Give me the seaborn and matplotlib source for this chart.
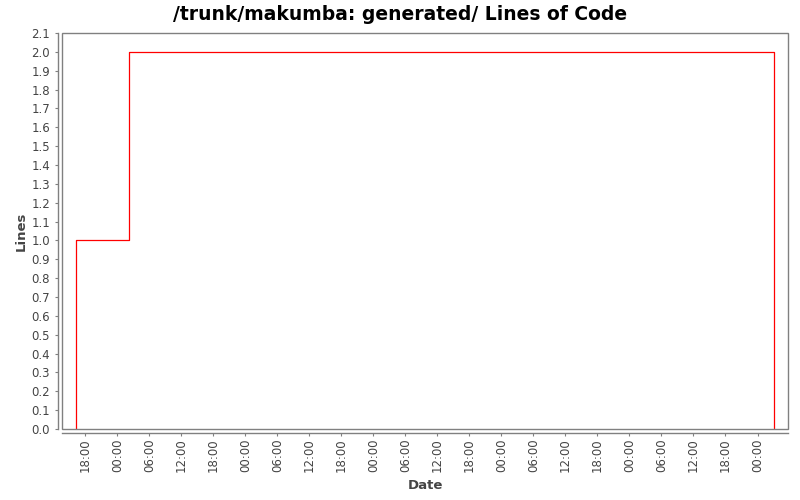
import matplotlib
matplotlib.use("Agg")
import matplotlib.pyplot as plt
import matplotlib.dates as mdates
from matplotlib.ticker import MultipleLocator, FormatStrFormatter
from matplotlib.patches import Rectangle
import seaborn as sns
import pandas as pd

# Data
dates = ["2003-03-10 16:15", "2003-03-10 16:15", "2003-03-11 02:15",
         "2003-03-16 03:06", "2003-03-16 03:06"]
lines_of_code = [0, 1, 2, 2, 0]
title = "/trunk/makumba: generated/ Lines of Code"
x_label = "Date"
y_label = "Lines"

df = pd.DataFrame({"Date": pd.to_datetime(dates), "Lines": lines_of_code})

sns.set_style("white")
plt.rcParams["font.family"] = ["DejaVu Sans"]

fig = plt.figure(figsize=(8, 5), dpi=100)
ax = fig.add_axes([62 / 800, (500 - 429) / 500, (788 - 62) / 800, (429 - 33) / 500])

sns.lineplot(data=df, x="Date", y="Lines", ax=ax, sort=False, estimator=None,
             drawstyle="steps-post", color="#ff0000", linewidth=0.9)

ax.set_ylim(0, 2.1)
ax.margins(x=0.02)
ax.yaxis.set_major_locator(MultipleLocator(0.1))
ax.yaxis.set_major_formatter(FormatStrFormatter("%.1f"))
ax.xaxis.set_major_locator(mdates.HourLocator(byhour=[0, 6, 12, 18]))
ax.xaxis.set_major_formatter(mdates.DateFormatter("%H:%M"))

gray = "#808080"
for s in ["top", "right"]:
    ax.spines[s].set_visible(False)
for s in ["left", "bottom"]:
    ax.spines[s].set_color(gray)
    ax.spines[s].set_linewidth(1.0)
    ax.spines[s].set_position(("outward", 3))

ax.add_patch(Rectangle((0, 0), 1, 1, transform=ax.transAxes, fill=False,
                       edgecolor=gray, linewidth=1.0, clip_on=False, zorder=3))

ax.tick_params(axis="both", direction="out", length=2, width=0.8, color=gray,
               labelsize=8.5, labelcolor="#444444", left=True, bottom=True)
ax.tick_params(axis="y", pad=3.5)
ax.tick_params(axis="x", pad=2, labelrotation=90)

ax.set_xlabel(x_label, fontsize=9.5, fontweight="bold", color="#444444", labelpad=5)
ax.set_ylabel(y_label, fontsize=9.5, fontweight="bold", color="#444444", labelpad=3)
fig.suptitle(title, fontsize=13.5, fontweight="bold", color="black",
             y=0.99, x=0.5, va="top")

fig.savefig("out.png", dpi=100, facecolor="white")
